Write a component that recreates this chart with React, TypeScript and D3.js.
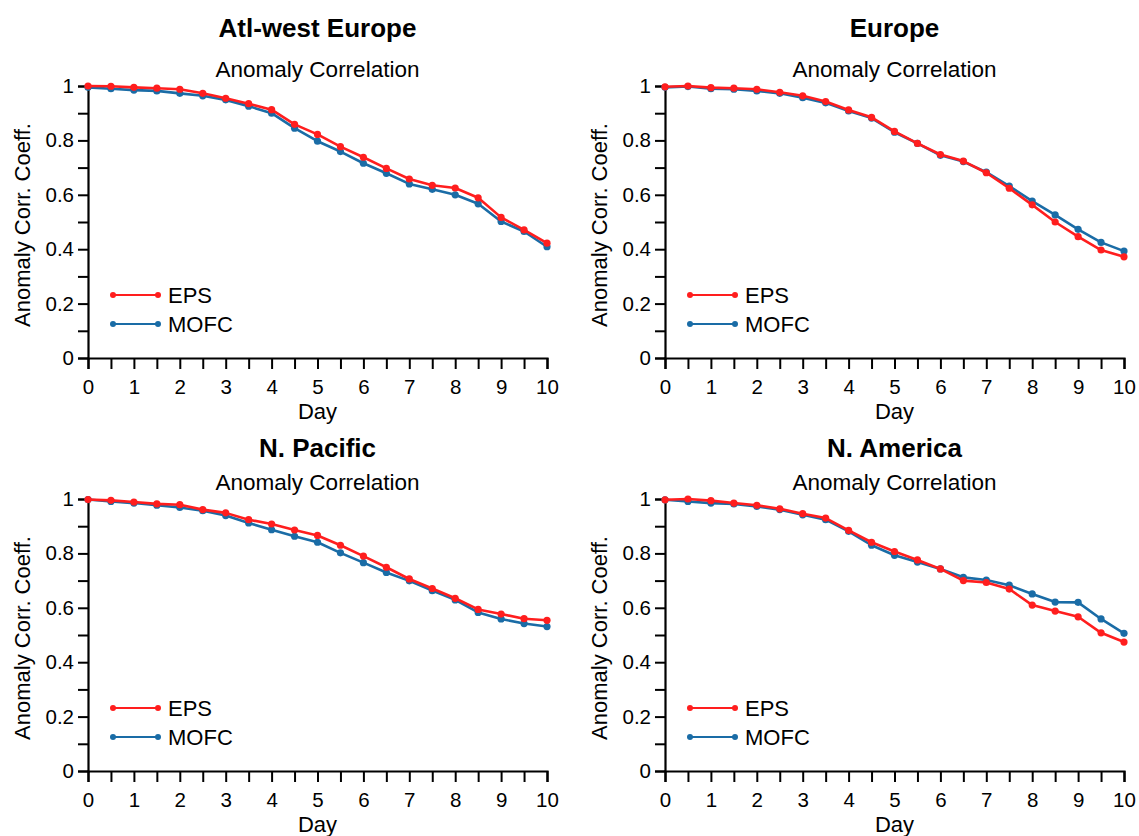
import React, { useEffect, useRef } from "react";
import * as d3 from "d3";

// Forecast day (0 to 10 in half-day steps)
const days = [0, 0.5, 1, 1.5, 2, 2.5, 3, 3.5, 4, 4.5, 5, 5.5, 6, 6.5, 7, 7.5, 8, 8.5, 9, 9.5, 10];

const regionTitles = ["Atl-west Europe", "Europe", "N. Pacific", "N. America"];
const seriesNames = ["EPS", "MOFC"];

// Anomaly correlation per region
const atlEps = [1.0, 0.999, 0.995, 0.992, 0.988, 0.973, 0.955, 0.935, 0.913, 0.859, 0.822, 0.777, 0.738, 0.697, 0.658, 0.635, 0.625, 0.589, 0.517, 0.471, 0.422];
const atlMofc = [0.995, 0.99, 0.985, 0.982, 0.973, 0.964, 0.949, 0.926, 0.9, 0.845, 0.797, 0.759, 0.716, 0.679, 0.64, 0.62, 0.6, 0.567, 0.502, 0.465, 0.409];

const eurEps = [0.997, 1.0, 0.994, 0.992, 0.988, 0.977, 0.964, 0.943, 0.912, 0.885, 0.833, 0.789, 0.748, 0.724, 0.681, 0.624, 0.563, 0.5, 0.446, 0.397, 0.372];
const eurMofc = [0.995, 0.998, 0.99, 0.988, 0.982, 0.973, 0.957, 0.938, 0.908, 0.882, 0.83, 0.789, 0.745, 0.722, 0.683, 0.632, 0.577, 0.526, 0.473, 0.425, 0.393];

const pacEps = [0.998, 0.995, 0.989, 0.982, 0.979, 0.961, 0.949, 0.924, 0.908, 0.886, 0.866, 0.83, 0.79, 0.749, 0.706, 0.671, 0.635, 0.594, 0.577, 0.56, 0.554];
const pacMofc = [0.998, 0.991, 0.985, 0.977, 0.969, 0.957, 0.939, 0.912, 0.887, 0.863, 0.841, 0.802, 0.766, 0.73, 0.699, 0.663, 0.629, 0.583, 0.559, 0.542, 0.531];

const namEps = [0.997, 1.0, 0.994, 0.985, 0.977, 0.964, 0.946, 0.93, 0.885, 0.841, 0.807, 0.776, 0.743, 0.7, 0.693, 0.669, 0.61, 0.588, 0.567, 0.508, 0.474];
const namMofc = [0.997, 0.991, 0.985, 0.982, 0.973, 0.961, 0.942, 0.924, 0.881, 0.83, 0.793, 0.768, 0.743, 0.712, 0.702, 0.683, 0.651, 0.621, 0.62, 0.559, 0.506];

const epsSeries = [atlEps, eurEps, pacEps, namEps];
const mofcSeries = [atlMofc, eurMofc, pacMofc, namMofc];

const xTickLabels = [0, 1, 2, 3, 4, 5, 6, 7, 8, 9, 10];
const yTickLabels = [0, 0.2, 0.4, 0.6, 0.8, 1];

const RED = "#ff1e1e";
const BLUE = "#1a6ca6";
const FONT = "'Liberation Sans', Arial, Helvetica, sans-serif";

export default function App() {
  const ref = useRef<SVGSVGElement | null>(null);

  useEffect(() => {
    const svg = d3.select(ref.current);
    svg.selectAll("*").remove();

    const plotW = 459;
    const plotH = 272;
    const lefts = [88, 665];
    const tops = [86, 499];
    const titleOffsets = [49, 42];

    regionTitles.forEach((title, i) => {
      const row = Math.floor(i / 2);
      const left = lefts[i % 2];
      const top = tops[row];
      const x = d3.scaleLinear().domain([0, 10]).range([left, left + plotW]);
      const y = d3.scaleLinear().domain([0, 1]).range([top + plotH, top]);
      const g = svg.append("g").attr("font-family", FONT);
      const cx = left + plotW / 2;

      g.append("text").attr("x", cx).attr("y", top - titleOffsets[row]).attr("text-anchor", "middle")
        .attr("font-size", 26).attr("font-weight", "bold").text(title);
      g.append("text").attr("x", cx).attr("y", top - 9).attr("text-anchor", "middle")
        .attr("font-size", 22.5).text("Anomaly Correlation");

      // axes
      const xAxis = d3.axisBottom(x).tickValues(d3.range(0, 10.01, 0.5)).tickSize(11)
        .tickFormat((d) => (xTickLabels.includes(+d) ? String(d) : ""));
      const gx = g.append("g").attr("transform", `translate(0,${top + plotH})`).call(xAxis);
      const yAxis = d3.axisLeft(y).tickValues(d3.range(0, 1.001, 0.1)).tickSize(10)
        .tickFormat((d) => {
          const v = Math.round(+d * 10) / 10;
          return yTickLabels.some((t) => Math.abs(t - v) < 1e-6) ? String(v) : "";
        });
      const gy = g.append("g").attr("transform", `translate(${left},0)`).call(yAxis);
      [gx, gy].forEach((ax) => {
        ax.select(".domain").attr("stroke", "#000").attr("stroke-width", 2.2);
        ax.selectAll(".tick line").attr("stroke", "#000").attr("stroke-width", 2);
        ax.selectAll(".tick text").attr("font-size", 20.5).attr("font-family", FONT).attr("fill", "#000");
      });
      gx.selectAll(".tick text").attr("dy", "1.05em");
      gy.selectAll(".tick text").attr("dx", "-0.05em");

      g.append("text").attr("x", cx).attr("y", top + plotH + 61).attr("text-anchor", "middle")
        .attr("font-size", 22).text("Day");
      g.append("text").attr("transform", `translate(${left - 58},${top + plotH / 2 + 3}) rotate(-90)`)
        .attr("text-anchor", "middle").attr("font-size", 22).text("Anomaly Corr. Coeff.");

      const line = d3.line<number>().x((_, k) => x(days[k])).y((v) => y(v));
      const drawSeries = (vals: number[], color: string) => {
        g.append("path").datum(vals).attr("d", line).attr("fill", "none")
          .attr("stroke", color).attr("stroke-width", 2.6).attr("stroke-linejoin", "round");
        g.selectAll(null).data(vals).enter().append("circle")
          .attr("cx", (_, k) => x(days[k])).attr("cy", (v) => y(v)).attr("r", 3.6).attr("fill", color);
      };
      drawSeries(mofcSeries[i], BLUE);
      drawSeries(epsSeries[i], RED);

      // legend
      const colors = [RED, BLUE];
      seriesNames.forEach((name, k) => {
        const ly = top + 209 + k * 29;
        const x1 = left + 25;
        const x2 = left + 70;
        g.append("line").attr("x1", x1).attr("x2", x2).attr("y1", ly).attr("y2", ly)
          .attr("stroke", colors[k]).attr("stroke-width", 2);
        [x1, x2].forEach((px) => g.append("circle").attr("cx", px).attr("cy", ly).attr("r", 3).attr("fill", colors[k]));
        g.append("text").attr("x", left + 80).attr("y", ly + 8).attr("font-size", 22).text(name);
      });
    });
  }, []);

  return (
    <svg ref={ref} width={1139} height={836}
      style={{ position: "absolute", left: 0, top: 0, background: "#fff" }} />
  );
}
